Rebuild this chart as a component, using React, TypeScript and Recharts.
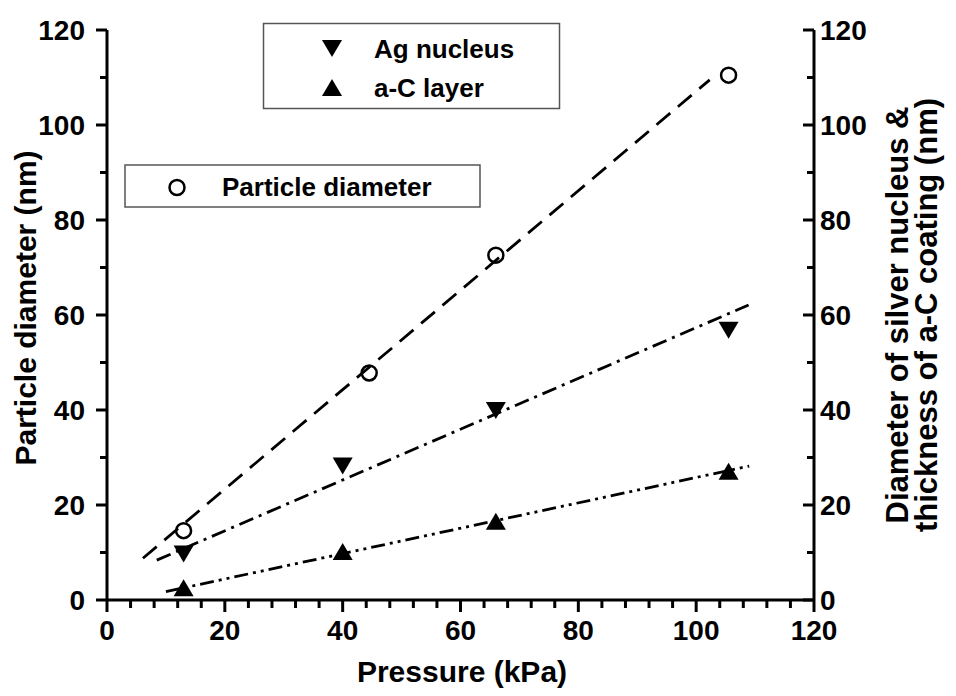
import React from 'react';
import { ComposedChart, XAxis, YAxis, Scatter, ReferenceLine } from 'recharts';

const pressure = [13, 40, 66, 105.5];
const particlePressure = [13, 44.5, 66, 105.5];
const particleDiameter = [14.6, 47.8, 72.6, 110.5];
const agNucleus = [9.8, 28.3, 40, 56.9];
const acLayer = [2.5, 10.1, 16.5, 27];

const xMajorTicks = [0, 20, 40, 60, 80, 100, 120];
const xMinorTicks = [4, 8, 12, 16, 24, 28, 32, 36, 44, 48, 52, 56, 64, 68, 72, 76, 84, 88, 92, 96, 104, 108, 112, 116];
const yMajorTicks = [0, 20, 40, 60, 80, 100, 120];
const yMinorTicks = [10, 30, 50, 70, 90, 110];

const particleFit = [{ x: 6.1, y: 8.8 }, { x: 102.3, y: 109.5 }];
const agFit = [{ x: 8.45, y: 8.4 }, { x: 108.9, y: 62.1 }];
const acFit = [{ x: 10, y: 1.75 }, { x: 109, y: 28.2 }];

const particleData = particlePressure.map((x, i) => ({ x, y: particleDiameter[i] }));
const agData = pressure.map((x, i) => ({ x, y: agNucleus[i] }));
const acData = pressure.map((x, i) => ({ x, y: acLayer[i] }));

const FONT = '"Liberation Sans", Arial, Helvetica, sans-serif';
const tickStyle = { fill: '#000', fontSize: 28, fontWeight: 'bold', fontFamily: FONT };
const lineStyle = { stroke: '#000', strokeWidth: 3 };

const EmptyTick = () => <g />;

const CircleShape = (p: any) => (
  <circle cx={p.cx} cy={p.cy} r={7.5} fill="none" stroke="#000" strokeWidth={2.5} />
);
const DownShape = (p: any) => (
  <path d={`M${p.cx - 10},${p.cy - 8} L${p.cx + 10},${p.cy - 8} L${p.cx},${p.cy + 9} Z`} fill="#000" />
);
const UpShape = (p: any) => (
  <path d={`M${p.cx - 10},${p.cy + 8} L${p.cx + 10},${p.cy + 8} L${p.cx},${p.cy - 9} Z`} fill="#000" />
);

export default function App() {
  return (
    <div style={{ position: 'absolute', left: 0, top: 0, width: 956, height: 696, background: '#fff', overflow: 'hidden' }}>
      <ComposedChart width={956} height={696} margin={{ top: 30, right: 141, bottom: 94, left: 105 }}>
        <XAxis xAxisId="x" type="number" dataKey="x" domain={[0, 120]} ticks={xMajorTicks} allowDataOverflow
          height={1} tickSize={12} tickMargin={8} tick={tickStyle} tickLine={lineStyle} axisLine={lineStyle} interval={0} />
        <XAxis xAxisId="xMinor" type="number" dataKey="x" domain={[0, 120]} ticks={xMinorTicks} allowDataOverflow
          height={1} tickSize={7} tick={EmptyTick} tickLine={lineStyle} axisLine={false} interval={0} />
        <YAxis yAxisId="left" type="number" dataKey="y" domain={[0, 120]} ticks={yMajorTicks} allowDataOverflow
          width={1} tickSize={11} tickMargin={11} tick={tickStyle} tickLine={lineStyle} axisLine={lineStyle} interval={0} />
        <YAxis yAxisId="leftMinor" type="number" dataKey="y" domain={[0, 120]} ticks={yMinorTicks} allowDataOverflow
          width={1} tickSize={6} tick={EmptyTick} tickLine={lineStyle} axisLine={false} interval={0} />
        <YAxis yAxisId="rightMajor" orientation="right" mirror type="number" dataKey="y" domain={[0, 120]} ticks={yMajorTicks} allowDataOverflow
          width={1} tickSize={11} tick={EmptyTick} tickLine={lineStyle} axisLine={lineStyle} interval={0} />
        <YAxis yAxisId="rightMinor" orientation="right" mirror type="number" dataKey="y" domain={[0, 120]} ticks={yMinorTicks} allowDataOverflow
          width={1} tickSize={6} tick={EmptyTick} tickLine={lineStyle} axisLine={false} interval={0} />
        <YAxis yAxisId="right" orientation="right" type="number" dataKey="y" domain={[0, 120]} ticks={yMajorTicks} allowDataOverflow
          width={1} tickSize={0} tickMargin={6} tick={tickStyle} tickLine={false} axisLine={false} interval={0} />

        <ReferenceLine xAxisId="x" yAxisId="left" segment={particleFit} stroke="#000" strokeWidth={2.8}
          strokeDasharray="18 10" ifOverflow="visible" />
        <ReferenceLine xAxisId="x" yAxisId="right" segment={agFit} stroke="#000" strokeWidth={2.8}
          strokeDasharray="15 6 3 6" ifOverflow="visible" />
        <ReferenceLine xAxisId="x" yAxisId="right" segment={acFit} stroke="#000" strokeWidth={2.8}
          strokeDasharray="14 5 3 5 3 5" ifOverflow="visible" />

        <Scatter name="Particle diameter" data={particleData} xAxisId="x" yAxisId="left" shape={CircleShape} isAnimationActive={false} />
        <Scatter name="Ag nucleus" data={agData} xAxisId="x" yAxisId="right" shape={DownShape} isAnimationActive={false} />
        <Scatter name="a-C layer" data={acData} xAxisId="x" yAxisId="right" shape={UpShape} isAnimationActive={false} />
      </ComposedChart>

      <svg width={956} height={696} style={{ position: 'absolute', left: 0, top: 0, pointerEvents: 'none' }}
        fontFamily={FONT} fontWeight="bold" fill="#000">
        {/* Legend 1 */}
        <rect x={263.5} y={23.5} width={296} height={85} fill="#fff" stroke="#555" strokeWidth={1.5} />
        <path d="M322,40 L342,40 L332,57 Z" fill="#000" />
        <text x={374} y={58} fontSize={26}>Ag nucleus</text>
        <path d="M322,96 L342,96 L332,79 Z" fill="#000" />
        <text x={374} y={97} fontSize={26}>a-C layer</text>
        {/* Legend 2 */}
        <rect x={125} y={165} width={355} height={42} fill="#fff" stroke="#555" strokeWidth={1.5} />
        <circle cx={177} cy={187.5} r={7.5} fill="none" stroke="#000" strokeWidth={2.5} />
        <text x={222} y={196} fontSize={26}>Particle diameter</text>
        {/* Axis titles */}
        <text x={462} y={682} fontSize={30} textAnchor="middle">Pressure (kPa)</text>
        <text x={36} y={308} fontSize={30} textAnchor="middle" transform="rotate(-90 36 308)">Particle diameter (nm)</text>
        <text x={908} y={315} fontSize={31} textAnchor="middle" transform="rotate(-90 908 315)">Diameter of silver nucleus &amp;</text>
        <text x={937} y={315} fontSize={31} textAnchor="middle" transform="rotate(-90 937 315)">thickness of a-C coating (nm)</text>
      </svg>
    </div>
  );
}
